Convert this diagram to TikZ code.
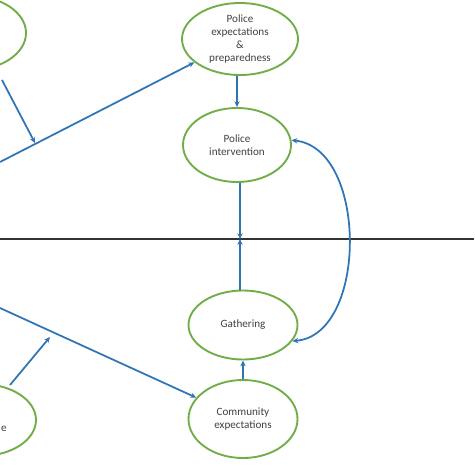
\documentclass[tikz,border=0pt]{standalone}
\usepackage{fontspec}
\setmainfont{Carlito}
\usepackage{tikz}
\usetikzlibrary{shapes,arrows,positioning,calc,arrows.meta}
\definecolor{flowblue}{HTML}{2E75B6}
\definecolor{ringgreen}{HTML}{70AD47}
\definecolor{txtgray}{HTML}{404040}
\tikzstyle{arrow} = [->, line width=1.5pt, color=flowblue, >={Stealth[length=5pt,width=4.5pt]}]
\tikzstyle{blob} = [draw=ringgreen, line width=1.6pt, ellipse, inner sep=0pt, align=center, text=txtgray, font=\fontsize{9.5}{11}\selectfont]

\begin{document}
\begin{tikzpicture}[x=0.03cm, y=-0.03cm]
    \useasboundingbox (0,0) rectangle (474,474);
    \clip (0,0) rectangle (474,474);
    % Nodes
    \node[blob, minimum width=3.3cm, minimum height=2.22cm] (unrest) at (-29,33) {};
    \node[blob, minimum width=3.48cm, minimum height=2.16cm] (pexp) at (240,39) {Police\\expectations\\\&\\preparedness};
    \node[blob, minimum width=3.24cm, minimum height=2.22cm] (pint) at (237,145) {Police\\intervention};
    \node[blob, minimum width=3.27cm, minimum height=2.07cm] (gath) at (243,325) {Gathering};
    \node[blob, minimum width=3.27cm, minimum height=2.34cm] (comm) at (243,419) {Community\\expectations};
    \node[blob, minimum width=3.3cm, minimum height=2.16cm] (griev) at (-19,420) {};
    \node[text=txtgray, font=\fontsize{9.5}{11}\selectfont, inner sep=0pt, anchor=base west] (griev-e) at (1,431) {e};
    % Border line
    \coordinate (hl) at (0,239);
    \coordinate (hr) at (474,239);
    \coordinate (mid) at (240,239);
    \draw[line width=1.6pt, color=black!80] (hl) -- (hr);
    % Free ends
    \coordinate (lnA) at (0,162);
    \coordinate (lnB) at (0,308);
    \coordinate (tlout) at (2,80);
    \coordinate (tlin) at (35,143);
    \coordinate (blout) at (10,385);
    \coordinate (blin) at (50,337);
    % Arrows
    \draw[arrow] (tlout) -- (tlin);
    \draw[arrow] (lnA) -- (pexp);
    \draw[arrow] (pexp.south -| pint) -- (pint.north);
    \draw[arrow] (pint.south -| mid) -- (mid);
    \draw[arrow] (gath.north -| mid) -- (mid);
    \draw[arrow] (comm) -- (gath);
    \draw[arrow] (lnB) -- (comm);
    \draw[arrow] (blout) -- (blin);
    \draw[arrow, <->] (gath.-18) .. controls (368,335) and (368,148) .. (pint.5);
\end{tikzpicture}
\end{document}
